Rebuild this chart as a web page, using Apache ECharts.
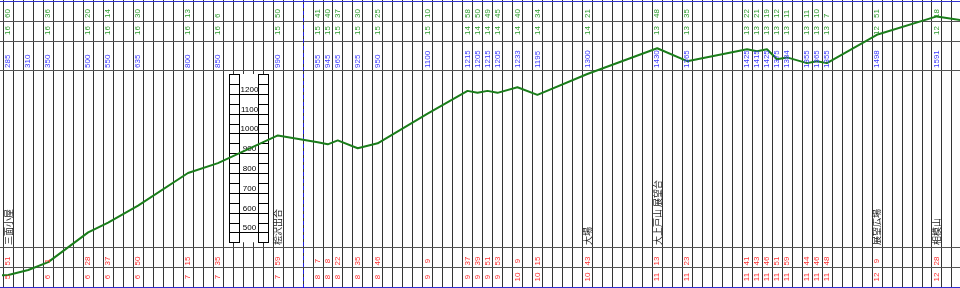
<!DOCTYPE html>
<html><head><meta charset="utf-8">
<script src="https://cdn.jsdelivr.net/npm/echarts@6/dist/echarts.min.js"></script>
<style>html,body{margin:0;padding:0;background:#fff}#c{width:960px;height:288px}</style>
</head><body><div id="c"></div>
<script>
// Waypoints: distance (column centres), elevation, times
const wpDist   = [5, 25, 45, 85, 105, 135, 185, 215, 275, 315, 325, 335, 355, 375, 425, 465, 475, 485, 495, 515, 535, 585, 655, 685, 745, 755, 765, 775, 785, 805, 815, 825, 875, 935];
const wpElev   = [285, 310, 350, 500, 550, 635, 800, 850, 990, 955, 945, 965, 925, 950, 1100, 1215, 1205, 1215, 1205, 1233, 1195, 1300, 1430, 1365, 1425, 1415, 1425, 1375, 1384, 1355, 1365, 1355, 1498, 1591];
const outHour  = ['5', '', '6', '6', '6', '6', '7', '7', '7', '8', '8', '8', '8', '8', '9', '9', '9', '9', '9', '10', '10', '10', '11', '11', '11', '11', '11', '11', '11', '11', '11', '11', '12', '12'];
const outMin   = ['51', '', '1', '28', '37', '50', '15', '35', '59', '7', '8', '22', '35', '46', '9', '37', '39', '51', '53', '9', '15', '43', '13', '23', '41', '43', '46', '51', '59', '44', '46', '48', '9', '28'];
const retHour  = ['16', '', '16', '16', '16', '16', '16', '16', '15', '15', '15', '15', '15', '15', '15', '14', '14', '14', '14', '14', '14', '14', '13', '13', '13', '13', '13', '13', '13', '13', '13', '13', '12', '12'];
const retMin   = ['60', '', '36', '20', '14', '30', '13', '6', '50', '41', '40', '37', '30', '25', '10', '58', '50', '49', '45', '40', '34', '21', '48', '35', '22', '21', '19', '12', '11', '11', '10', '7', '51', '18'];
const wpName   = ['三面小屋', '', '', '', '', '', '', '', '桧沢出合', '', '', '', '', '', '', '', '', '', '', '', '', '大場', '大上戸山 展望台', '', '', '', '', '', '', '', '', '', '展望広場', '相模山'];
// Profile line (waypoints plus the run-in / run-out beyond the frame)
const profDist = [-5].concat(wpDist, [965]);
const profElev = [283].concat(wpElev, [1567]);
// Ruler scale
const rulerTicks = [450, 500, 550, 600, 650, 700, 750, 800, 850, 900, 950, 1000, 1050, 1100, 1150, 1200, 1250, 1300];
const rulerLabels = [500, 600, 700, 800, 900, 1000, 1100, 1200];
const dividerDist = 300;

const FONT = '8px "Liberation Sans", Arial, sans-serif';
const JFONT = '9px "Noto Sans CJK JP", sans-serif';
const GREEN = '#2e9a2e', BLUE = '#3a3aff', RED = '#ff3030';

function rot(text, x, y, fill, align, font) {
  return { type: 'text', x: x, y: y, rotation: Math.PI / 2, silent: true,
    style: { text: text, fill: fill, font: font || FONT, align: align, verticalAlign: 'middle' } };
}

const chart = echarts.init(document.getElementById('c'), null, { renderer: 'canvas' });
const hLines = [1.5, 21.5, 41.5, 70.5, 247.5, 267.5, 287.5];
chart.setOption({
  animation: false,
  grid: { left: 3.3, right: 0, top: 0, bottom: 0 },
  xAxis: { type: 'value', min: 0, max: 958.3, interval: 10,
    axisLine: { show: false }, axisTick: { show: false }, axisLabel: { show: false },
    splitLine: { show: true, showMinLine: true, showMaxLine: false, lineStyle: { color: '#333', width: 1 } } },
  yAxis: { type: 'value', min: 219.3, max: 1673.9,
    axisLine: { show: false }, axisTick: { show: false }, axisLabel: { show: false }, splitLine: { show: false } },
  graphic: hLines.map((y, i) => ({ type: 'line', z: 1, silent: true,
    shape: { x1: 0, y1: y, x2: 960, y2: y },
    style: { stroke: (i === 0 || i === hLines.length - 1) ? '#3030d0' : '#555', lineWidth: 1 } })),
  series: [
    { // ruler
      type: 'custom', z: 3, clip: false, silent: true,
      data: rulerTicks.map(v => [0, v]),
      renderItem: function (params, api) {
        const v = api.value(1);
        const y = api.coord([0, v])[1];
        const L1 = 229, L2 = 239, R1 = 258, R2 = 268;
        const ch = [];
        if (params.dataIndex === 0) {
          const yTop = api.coord([0, rulerTicks[rulerTicks.length - 1]])[1];
          ch.push({ type: 'rect', shape: { x: L1 - 3, y: yTop, width: R2 - L1 + 6, height: y - yTop }, style: { fill: '#fff' } });
          [L1, L2, R1, R2].forEach(x => ch.push({ type: 'line', shape: { x1: x + 0.5, y1: yTop, x2: x + 0.5, y2: y }, style: { stroke: '#000', lineWidth: 1 } }));
        }
        const major = rulerLabels.indexOf(v) >= 0;
        const yy = Math.round(y) + 0.5;
        if (major) {
          ch.push({ type: 'line', shape: { x1: L1, y1: yy, x2: R2 + 1, y2: yy }, style: { stroke: '#000', lineWidth: 1 } });
          ch.push({ type: 'text', x: (L2 + R1) / 2 + 1, y: yy - 1, style: { text: String(v), fill: '#000', font: FONT, align: 'center', verticalAlign: 'bottom' } });
        } else {
          ch.push({ type: 'line', shape: { x1: L1, y1: yy, x2: L2 + 1, y2: yy }, style: { stroke: '#000', lineWidth: 1 } });
          ch.push({ type: 'line', shape: { x1: R1, y1: yy, x2: R2 + 1, y2: yy }, style: { stroke: '#000', lineWidth: 1 } });
        }
        return { type: 'group', children: ch };
      }
    },
    { // profile
      type: 'line', z: 5, clip: false, symbol: 'none', silent: true,
      data: profDist.map((d, i) => [d, profElev[i]]),
      lineStyle: { color: '#1a7d1a', width: 2 },
      markLine: { silent: true, symbol: 'none', label: { show: false },
        lineStyle: { color: '#2020e0', type: [4, 3], width: 1 },
        data: [{ xAxis: dividerDist }] }
    },
    { // waypoint labels
      type: 'custom', z: 6, clip: false, silent: true,
      data: wpDist.map((d, i) => [d, wpElev[i]]),
      renderItem: function (params, api) {
        const i = params.dataIndex;
        const x = api.coord([api.value(0), api.value(1)])[0];
        const ch = [];
        ch.push(rot(String(wpElev[i]), x, 68, BLUE, 'left'));
        if (retMin[i]) ch.push(rot(retMin[i], x, 18, GREEN, 'left'));
        if (retHour[i]) ch.push(rot(retHour[i], x, 35, GREEN, 'left'));
        if (outMin[i]) ch.push(rot(outMin[i], x, 261, RED, 'center'));
        if (outHour[i]) ch.push(rot(outHour[i], x, 277, RED, 'center'));
        if (wpName[i]) ch.push(rot(wpName[i], x, 245, '#222', 'left', JFONT));
        return { type: 'group', children: ch };
      }
    }
  ]
});
</script></body></html>
